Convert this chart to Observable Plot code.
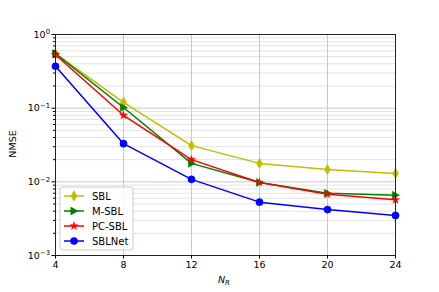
<!DOCTYPE html>
<html><head><meta charset="utf-8">
<script src="https://cdn.jsdelivr.net/npm/d3@7"></script>
<script src="https://cdn.jsdelivr.net/npm/@observablehq/plot@0.6"></script>
<style>
body{margin:0;background:#fff;}
#c{position:relative;width:439px;height:292px;font-family:"DejaVu Sans",sans-serif;}
#c svg{position:absolute;left:0;top:0;}
</style>
</head><body><div id="c"></div>
<script>
const nr = [4, 8, 12, 16, 20, 24];
const sbl = [0.55, 0.12, 0.031, 0.0178, 0.0147, 0.013];
const msbl = [0.55, 0.102, 0.0178, 0.0098, 0.0070, 0.0066];
const pcsbl = [0.53, 0.080, 0.020, 0.0098, 0.0068, 0.0057];
const sblnet = [0.37, 0.033, 0.0108, 0.0053, 0.0042, 0.0035];
const names = ["SBL", "M-SBL", "PC-SBL", "SBLNet"];
const colors = ["#bfbf00", "#008000", "#ff0000", "#0000ff"];
const xTicks = [4, 8, 12, 16, 20, 24];
const yTicks = [1e-3, 1e-2, 1e-1, 1];
const yTickLabels = ["10^−3", "10^−2", "10^−1", "10^0"];
const yMinor = [];
for (let e = -3; e < 0; e++) for (let m = 2; m <= 9; m++) yMinor.push(m * Math.pow(10, e));

const thinDiamond = {draw(ctx, size) {const r = Math.sqrt(size / Math.PI); const h = r * 1.45, w = r * 0.85; ctx.moveTo(0, -h); ctx.lineTo(w, 0); ctx.lineTo(0, h); ctx.lineTo(-w, 0); ctx.closePath();}};
const triRight = {draw(ctx, size) {const r = Math.sqrt(size / Math.PI) * 1.1; ctx.moveTo(r, 0); ctx.lineTo(-r * 0.8, -r); ctx.lineTo(-r * 0.8, r); ctx.closePath();}};
const symbols = [thinDiamond, triRight, d3.symbolStar, d3.symbolCircle];
const radii = [3.6, 3.6, 2.5, 3.6];
const series = [sbl, msbl, pcsbl, sblnet];

const rows = names.flatMap((n, i) => nr.map((x, j) => ({series: n, x, y: series[i][j]})));

const fs = 9.5;
const chart = Plot.plot({
  width: 439, height: 292,
  marginLeft: 55, marginRight: 44, marginTop: 34, marginBottom: 37,
  style: {fontFamily: "DejaVu Sans", fontSize: fs + "px", background: "transparent"},
  x: {domain: [4, 24], label: null},
  y: {type: "log", domain: [1e-3, 1], label: null},
  marks: [
    Plot.ruleY(yMinor, {stroke: "#e3e3e3", strokeWidth: 1}),
    Plot.ruleY(yTicks, {stroke: "#c8c8c8", strokeWidth: 1}),
    Plot.ruleX(xTicks, {stroke: "#c8c8c8", strokeWidth: 1}),
    ...names.map((n, i) => Plot.line(rows.filter(d => d.series === n), {x: "x", y: "y", stroke: colors[i], strokeWidth: 1.5})),
    ...names.map((n, i) => Plot.dot(rows.filter(d => d.series === n), {x: "x", y: "y", fill: colors[i], stroke: colors[i], strokeWidth: 0.5, symbol: () => symbols[i], r: radii[i]})),
    Plot.frame({stroke: "#222", strokeWidth: 1}),
    Plot.axisX(xTicks, {tickSize: 3.5, tickPadding: 2, fontSize: fs, stroke: "#000", color: "#000"}),
    Plot.axisY(yTicks, {tickSize: 3.5, tickPadding: 2, fontSize: fs, tickFormat: d => yTickLabels[yTicks.indexOf(d)], color: "#000", stroke: "#000", ariaLabel: "ymajor"}),
    Plot.axisY(yMinor, {tickSize: 2, text: null, stroke: "#000"})
  ]
});
const c = document.getElementById("c");
c.appendChild(chart);

// turn "10^e" labels into real superscripts
d3.select(chart).selectAll("text").each(function() {
  const t = this.textContent;
  if (t.includes("^")) {
    const [b, e] = t.split("^");
    const s = d3.select(this);
    s.text(b);
    s.append("tspan").attr("dy", "-0.45em").attr("font-size", "0.72em").text(e);
  }
});

const svg = d3.select(c).append("svg").attr("width", 439).attr("height", 292)
  .style("font-family", "DejaVu Sans").style("pointer-events", "none");
svg.append("text").attr("transform", "translate(16,144) rotate(-90)").attr("text-anchor", "middle")
  .attr("font-size", 9.5).attr("fill", "#000").text("NMSE");
const xl = svg.append("text").attr("x", 224).attr("y", 283).attr("text-anchor", "middle").attr("font-size", 9.5).attr("fill", "#000");
xl.append("tspan").attr("font-style", "italic").text("N");
xl.append("tspan").attr("font-style", "italic").attr("font-size", 7).attr("dy", 2).text("R");

const lg = svg.append("g");
lg.append("rect").attr("x", 60).attr("y", 187).attr("width", 73).attr("height", 63).attr("rx", 3)
  .attr("fill", "#fff").attr("fill-opacity", 0.8).attr("stroke", "#ccc");
names.forEach((n, i) => {
  const y = 196 + i * 15;
  lg.append("line").attr("x1", 64).attr("x2", 84).attr("y1", y).attr("y2", y).attr("stroke", colors[i]).attr("stroke-width", 1.5);
  lg.append("path").attr("transform", `translate(74,${y})`).attr("d", d3.symbol(symbols[i], radii[i] * radii[i] * Math.PI)())
    .attr("fill", colors[i]).attr("stroke", colors[i]).attr("stroke-width", 0.5);
  lg.append("text").attr("x", 92).attr("y", y + 3.5).attr("font-size", 10).attr("fill", "#000").text(n);
});
</script>
</body></html>
